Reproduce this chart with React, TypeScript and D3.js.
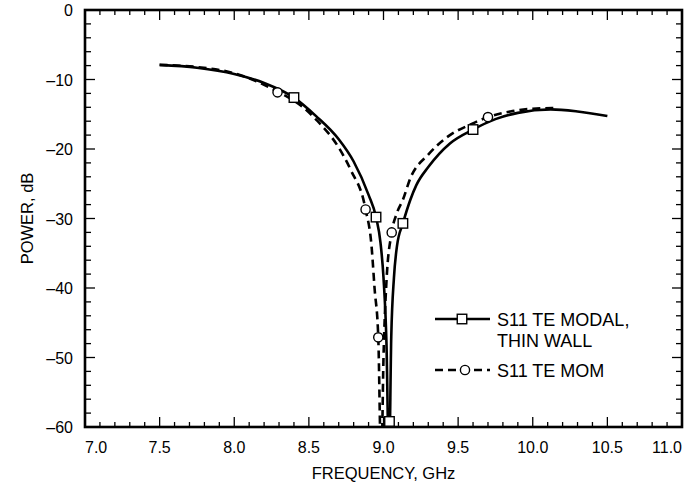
import React from "react";
import * as d3 from "d3";

const W = 697;
const H = 493;

const xTickLabels = ["7.0", "7.5", "8.0", "8.5", "9.0", "9.5", "10.0", "10.5", "11.0"];
const yTickValues = [0, -10, -20, -30, -40, -50, -60];

// S11 TE MODAL, THIN WALL (solid)
const modalFreq = [7.5, 7.75, 8.0, 8.2, 8.4, 8.55, 8.7, 8.8, 8.9, 8.95, 8.98, 9.0, 9.02, 9.037, 9.052, 9.07, 9.09, 9.13, 9.18, 9.22, 9.3, 9.445, 9.6, 9.75, 9.9, 10.12, 10.3, 10.5];
const modalDb = [-7.9, -8.3, -9.2, -10.5, -12.6, -15.3, -18.6, -21.8, -26.6, -29.8, -33.5, -38.5, -48, -66, -47, -38.5, -34, -30.7, -27.3, -25.2, -22.6, -19.2, -17.2, -15.7, -14.8, -14.3, -14.6, -15.25];
const modalMarkF = [8.4, 8.95, 9.04, 9.13, 9.6];
const modalMarkDb = [-12.6, -29.8, -59.2, -30.7, -17.2];

// S11 TE MOM (dashed)
const momFreq = [7.5, 7.75, 8.0, 8.3, 8.45, 8.55, 8.7, 8.78, 8.88, 8.92, 8.94, 8.965, 8.985, 9.0, 9.02, 9.055, 9.09, 9.13, 9.18, 9.3, 9.445, 9.58, 9.7, 9.85, 10.0, 10.15];
const momDb = [-7.9, -8.2, -9.1, -11.85, -13.8, -15.8, -19.8, -23.0, -28.7, -34, -40, -47.1, -66, -50, -39, -32.0, -29.2, -27.3, -24.2, -20.8, -18.0, -16.5, -15.4, -14.6, -14.2, -14.1];
const momMarkF = [8.29, 8.88, 8.965, 9.055, 9.7];
const momMarkDb = [-11.85, -28.7, -47.1, -32.0, -15.4];

const legendLabels = [["S11 TE MODAL,", "THIN WALL"], ["S11 TE MOM"]];

const FONT = "'Liberation Sans', Arial, Helvetica, sans-serif";

export default function App() {
  const left = 85, right = 682, top = 10, bottom = 427;
  const x = d3.scaleLinear().domain([7, 11]).range([left, right]);
  const y = d3.scaleLinear().domain([0, -60]).range([top, bottom]);

  const line = d3
    .line<[number, number]>()
    .x((d) => x(d[0]))
    .y((d) => y(d[1]))
    .curve(d3.curveMonotoneX);

  const modalPts: [number, number][] = modalFreq.map((f, i) => [f, modalDb[i]]);
  const momPts: [number, number][] = momFreq.map((f, i) => [f, momDb[i]]);

  const xMinor = d3.range(70, 111).map((v) => v / 10);
  const yMinor = d3.range(0, 31).map((v) => -v * 2);

  const sq = 9.5;
  const cr = 4.6;

  return (
    <div style={{ position: "fixed", left: 0, top: 0 }}>
      <svg width={W} height={H} style={{ display: "block", background: "#fff" }}>
        <defs>
          <clipPath id="plotclip">
            <rect x={left} y={top} width={right - left} height={bottom - top} />
          </clipPath>
        </defs>
        <rect x={0} y={0} width={W} height={H} fill="#fff" />

        {/* ticks */}
        <g stroke="#000" strokeWidth={1.3}>
          {xMinor.map((v, i) => {
            const major = i % 5 === 0;
            const len = major ? 10 : 5;
            const xx = x(v);
            return (
              <g key={"xt" + i}>
                <line x1={xx} x2={xx} y1={bottom} y2={bottom - len} />
                <line x1={xx} x2={xx} y1={top} y2={top + len} />
              </g>
            );
          })}
          {yMinor.map((v, i) => {
            const major = i % 5 === 0;
            const len = major ? 10 : 6;
            const yy = y(v);
            return (
              <g key={"yt" + i}>
                <line x1={left} x2={left + len} y1={yy} y2={yy} />
                <line x1={right} x2={right - len} y1={yy} y2={yy} />
              </g>
            );
          })}
        </g>

        {/* frame */}
        <rect x={left} y={top} width={right - left} height={bottom - top} fill="none" stroke="#000" strokeWidth={2.6} />

        {/* tick labels */}
        <g fontFamily={FONT} fontSize={16} fill="#000">
          {xTickLabels.map((t, i) => {
            const v = 7 + i * 0.5;
            const first = i === 0;
            const last = i === xTickLabels.length - 1;
            return (
              <text
                key={"xl" + i}
                x={first ? left : last ? right : x(v)}
                y={453}
                textAnchor={first ? "start" : last ? "end" : "middle"}
              >
                {t}
              </text>
            );
          })}
          {yTickValues.map((v) => (
            <text key={"yl" + v} x={73} y={y(v) + 6} textAnchor="end">
              {v === 0 ? "0" : "\u2013" + Math.abs(v)}
            </text>
          ))}
        </g>

        {/* axis titles */}
        <text x={(left + right) / 2} y={479} textAnchor="middle" fontFamily={FONT} fontSize={16.5}>
          FREQUENCY, GHz
        </text>
        <text
          transform={`translate(33, ${(top + bottom) / 2}) rotate(-90)`}
          textAnchor="middle"
          fontFamily={FONT}
          fontSize={16.5}
        >
          POWER, dB
        </text>

        {/* curves */}
        <g clipPath="url(#plotclip)" fill="none" stroke="#000">
          <path d={line(modalPts) || ""} strokeWidth={2.6} />
          <path d={line(momPts) || ""} strokeWidth={2.6} strokeDasharray="8,5" />
        </g>

        {/* markers */}
        <g fill="#fff" stroke="#000" strokeWidth={1.4}>
          {modalMarkF.map((f, i) => (
            <rect key={"ms" + i} x={x(f) - sq / 2} y={y(modalMarkDb[i]) - sq / 2} width={sq} height={sq} />
          ))}
          {momMarkF.map((f, i) => (
            <circle key={"mc" + i} cx={x(f)} cy={y(momMarkDb[i])} r={cr} />
          ))}
        </g>

        {/* legend */}
        <g>
          <line x1={435} x2={490} y1={319} y2={319} stroke="#000" strokeWidth={2.6} />
          <rect x={462 - sq / 2} y={319 - sq / 2} width={sq} height={sq} fill="#fff" stroke="#000" strokeWidth={1.4} />
          <line x1={435} x2={490} y1={370} y2={370} stroke="#000" strokeWidth={2.6} strokeDasharray="8,5" />
          <circle cx={465} cy={370} r={cr} fill="#fff" stroke="#000" strokeWidth={1.4} />
          <g fontFamily={FONT} fontSize={18} fill="#000">
            <text x={497} y={326}>{legendLabels[0][0]}</text>
            <text x={497} y={347}>{legendLabels[0][1]}</text>
            <text x={497} y={377}>{legendLabels[1][0]}</text>
          </g>
        </g>
      </svg>
    </div>
  );
}
